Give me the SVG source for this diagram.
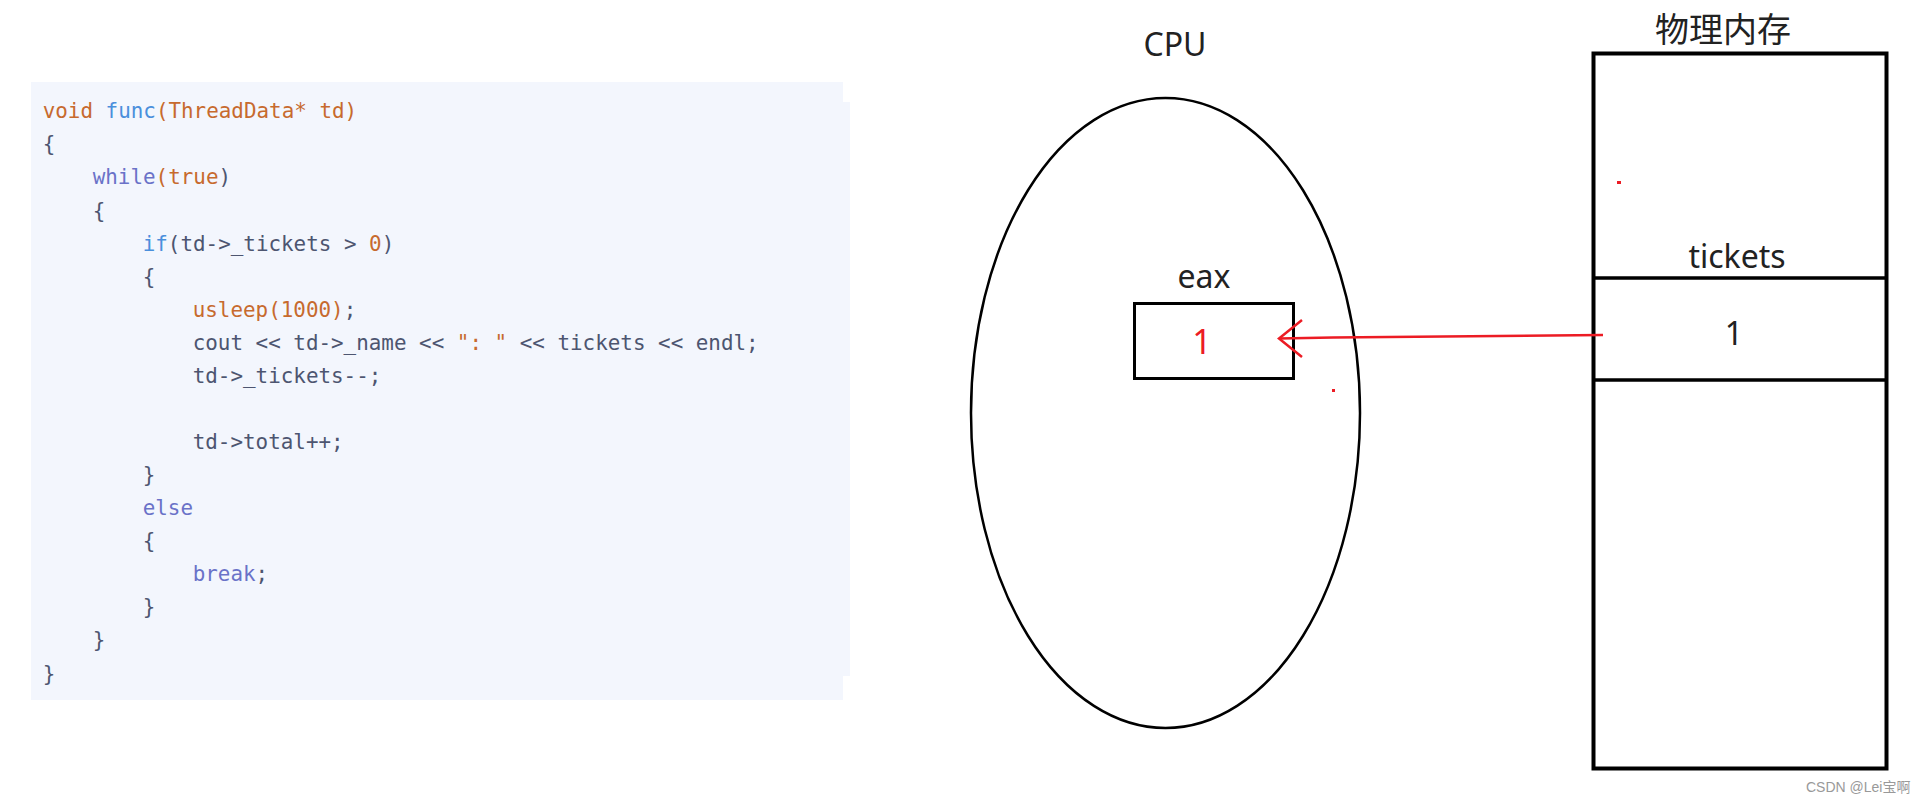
<svg xmlns="http://www.w3.org/2000/svg" width="1926" height="802" viewBox="0 0 1926 802">
<style>
.code{font-family:"DejaVu Sans Mono","Liberation Mono",monospace;font-size:20.9px;fill:#4d5570;}
.o{fill:#c76a2e;}
.b{fill:#4a8fdc;}
.p{fill:#6a72c8;}
.lbl{font-family:"Noto Sans","Open Sans","Noto Sans CJK SC",sans-serif;fill:#222;text-anchor:middle;}
.blk{fill:none;stroke:#000;}
.red{stroke:#ec1c24;fill:none;stroke-width:2.5;}
</style>
<rect width="1926" height="802" fill="#fff"/>
<g id="code">
<rect x="31" y="82" width="812" height="618" fill="#f3f6fd"/>
<rect x="842" y="102" width="8" height="574" fill="#f3f6fd"/>
<text class="code" x="42.7" y="118.3"><tspan class="o">void</tspan> <tspan class="b">func</tspan><tspan class="o">(ThreadData* td)</tspan></text>
<text class="code" x="42.7" y="151.4">{</text>
<text class="code" x="92.7" y="184.4"><tspan class="p">while</tspan><tspan class="o">(true</tspan>)</text>
<text class="code" x="92.7" y="217.5">{</text>
<text class="code" x="142.7" y="250.6"><tspan class="b">if</tspan>(td-&gt;_tickets &gt; <tspan class="o">0</tspan>)</text>
<text class="code" x="142.7" y="283.6">{</text>
<text class="code" x="192.7" y="316.7"><tspan class="o">usleep(1000)</tspan>;</text>
<text class="code" x="192.7" y="349.8">cout &lt;&lt; td-&gt;_name &lt;&lt; <tspan class="o">": "</tspan> &lt;&lt; tickets &lt;&lt; endl;</text>
<text class="code" x="192.7" y="382.9">td-&gt;_tickets--;</text>
<text class="code" x="192.7" y="449.0">td-&gt;total++;</text>
<text class="code" x="142.7" y="482.1">}</text>
<text class="code" x="142.7" y="515.1"><tspan class="p">else</tspan></text>
<text class="code" x="142.7" y="548.2">{</text>
<text class="code" x="192.7" y="581.3"><tspan class="p">break</tspan>;</text>
<text class="code" x="142.7" y="614.4">}</text>
<text class="code" x="92.7" y="647.4">}</text>
<text class="code" x="42.7" y="680.5">}</text>
</g>
<g id="cpu">
<ellipse class="blk" cx="1165.5" cy="413" rx="194.5" ry="315" stroke-width="2.5"/>
<text class="lbl" x="1175" y="56" font-size="32">CPU</text>
</g>
<g id="eax">
<rect class="blk" x="1134.5" y="303.5" width="159" height="75" stroke-width="3"/>
<text class="lbl" x="1204" y="288" font-size="32">eax</text>
<text class="lbl" x="1202" y="354" font-size="34" style="fill:#ec1c24">1</text>
</g>
<g id="memory">
<rect class="blk" x="1593.5" y="53.5" width="293" height="715" stroke-width="4"/>
<line class="blk" x1="1593.5" y1="278" x2="1886.5" y2="278" stroke-width="3.5"/>
<line class="blk" x1="1593.5" y1="380" x2="1886.5" y2="380" stroke-width="3.5"/>
<text class="lbl" x="1723" y="42" font-size="34">物理内存</text>
<text class="lbl" x="1737" y="268" font-size="32">tickets</text>
<text class="lbl" x="1734" y="345" font-size="32">1</text>
</g>
<g id="connectors">
<path class="red" d="M1603,335 L1333,337.5 L1279,338.5"/>
<path class="red" d="M1302,320 L1279,338.5 L1302,357"/>
</g>
<g id="marks" fill="#ec1c24">
<rect x="1332" y="389" width="3" height="3"/>
<rect x="1617" y="181" width="4" height="3"/>
</g>
<text x="1806" y="792" font-family="Liberation Sans,Arial,'Noto Sans CJK SC',sans-serif" font-size="14" fill="#999">CSDN @Lei宝啊</text>
</svg>
